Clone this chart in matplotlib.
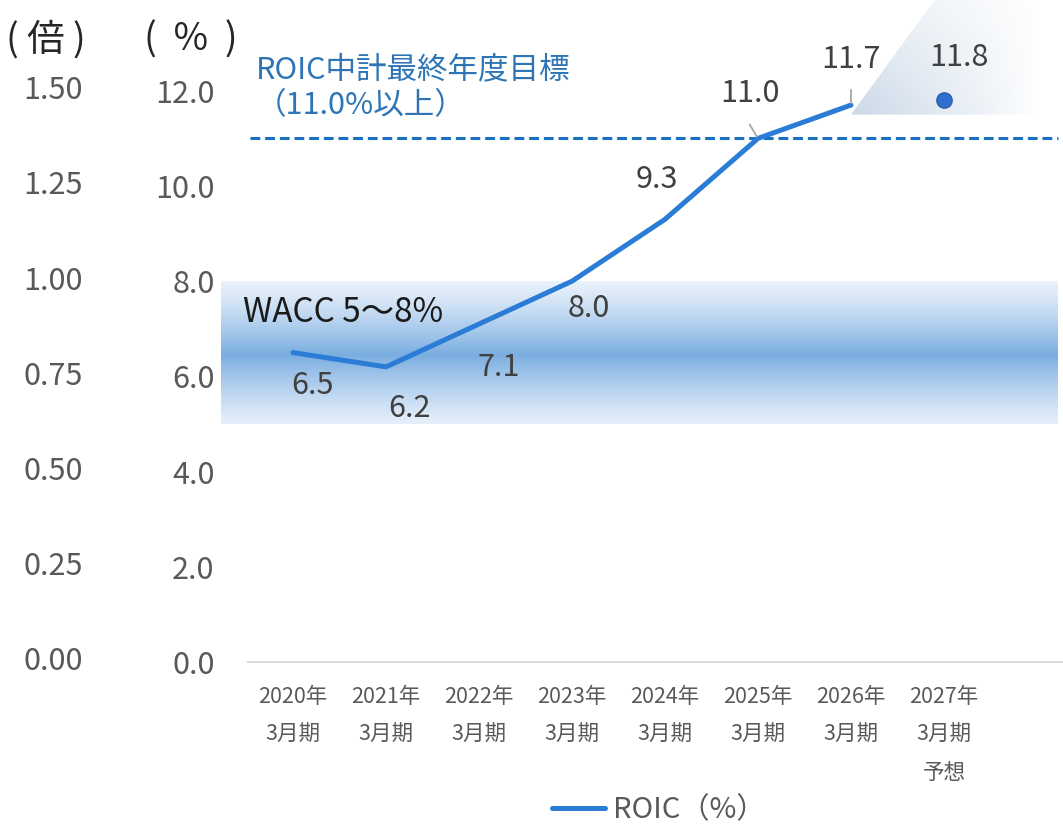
import numpy as np
import matplotlib.pyplot as plt
import matplotlib.transforms as mtransforms
from matplotlib.patches import Polygon
from matplotlib.lines import Line2D

plt.rcParams['font.family'] = ['Noto Sans CJK JP', 'DejaVu Sans']

# データ
periods = ['2020年\n3月期', '2021年\n3月期', '2022年\n3月期', '2023年\n3月期',
           '2024年\n3月期', '2025年\n3月期', '2026年\n3月期', '2027年\n3月期\n予想']
roic = [6.5, 6.2, 7.1, 8.0, 9.3, 11.0, 11.7]
roic_forecast = 11.8
roic_target = 11.0
wacc_range = [5.0, 8.0]
pct_ticks = [0, 2, 4, 6, 8, 10, 12]
times_ticks = [0.00, 0.25, 0.50, 0.75, 1.00, 1.25, 1.50]

W, H = 1063, 827
fig = plt.figure(figsize=(W / 100, H / 100), dpi=100)
ax = fig.add_axes([248 / W, (H - 662) / H, (W - 248) / W, 662 / H])
ax.set_xlim(-0.484, 8.28)
ax.set_ylim(0, 662 / 47.6)

gray = '#595959'
line_c = '#2b7cd6'

# WACC帯 (グラデーション)
ys = np.linspace(wacc_range[0], wacc_range[1], 300)
w = np.clip(1 - np.abs(ys - 6.45) / 1.6, 0, 1) ** 1.3
dark = np.array([0.48, 0.68, 0.88])
light = np.array([0.92, 0.95, 0.985])
band = light + (dark - light) * w[:, None]
ax.imshow(band[:, None, :], origin='lower', aspect='auto', interpolation='bilinear',
          extent=(-0.77, 8.23, wacc_range[0], wacc_range[1]), clip_on=False, zorder=1)

# 予想部分の背景
top = ax.get_ylim()[1]
gx = np.linspace(0, 1, 200)
gy = np.linspace(0, 1, 100)
GX, GY = np.meshgrid(gx, gy)
alpha = np.clip(1 - GX * 1.12, 0, 1) ** 0.9 * (0.68 - 0.4 * GY)
rgba = np.zeros((100, 200, 4))
rgba[..., 0], rgba[..., 1], rgba[..., 2] = 0.70, 0.78, 0.87
rgba[..., 3] = alpha
n = len(roic) - 1
im = ax.imshow(rgba, origin='lower', aspect='auto', interpolation='bilinear',
               extent=(n, 8.28, 11.5, top), zorder=1)
clip = Polygon([(n, 11.5), (n + 0.9, top), (8.28, top), (8.28, 11.5)],
               transform=ax.transData, facecolor='none', edgecolor='none')
ax.add_patch(clip)
im.set_clip_path(clip)
ax.set_xlim(-0.484, 8.28)
ax.set_ylim(0, top)

# 目標ライン
ax.plot([-0.46, 8.23], [roic_target, roic_target], color='#1a70c0', lw=2.2,
        dashes=(3.2, 1.6), zorder=2)

# ROIC
x = np.arange(len(roic))
ax.plot(x, roic, color=line_c, lw=3.6, solid_capstyle='round', zorder=3)
ax.plot([len(roic)], [roic_forecast], 'o', ms=11, color='#2f6fd0',
        mec='#2e5ca8', mew=1, zorder=3)

# データラベル
vals = roic + [roic_forecast]
offsets = [(14, -24), (17, -30), (14, -31), (12, -20), (-6, 29), (-6, 32), (0, 33), (11, 31)]
for i, (v, off) in enumerate(zip(vals, offsets)):
    ax.annotate(f'{v:.1f}', xy=(i, v), xytext=off, textcoords='offset points',
                ha='center', va='center', fontsize=22, color='#404040', zorder=4)

# 引き出し線
for i, start in [(5, (-6, 10)), (6, (0, 11))]:
    ax.annotate('', xy=(i, roic[i]), xytext=start, textcoords='offset points',
                arrowprops=dict(arrowstyle='-', color='#a6a6a6', lw=1.3,
                                shrinkA=0, shrinkB=1.5), zorder=4)

# 軸
for s in ['left', 'right', 'top']:
    ax.spines[s].set_visible(False)
ax.spines['bottom'].set_color('#d9d9d9')
ax.spines['bottom'].set_linewidth(1.5)
ax.set_yticks(pct_ticks)
ax.set_yticklabels([f'{v:.1f}' for v in pct_ticks])
ax.tick_params(axis='y', length=0, pad=24, labelsize=22, labelcolor=gray)
ax.set_xticks(range(len(periods)))
ax.set_xticklabels(periods, linespacing=1.95)
ax.tick_params(axis='x', length=0, pad=17, labelsize=15.5, labelcolor=gray)

# 倍の目盛
trans = mtransforms.blended_transform_factory(ax.transAxes, ax.transData)
scale = max(pct_ticks) / max(times_ticks)
for b in times_ticks:
    ax.text(-0.2025, b * scale, f'{b:.2f}', transform=trans, ha='right', va='center',
            fontsize=22, color=gray)

fig.text(46 / W, 1 - 40 / H, '( 倍 )', ha='center', va='center', fontsize=27, color='#262626')
fig.text(191 / W, 1 - 40 / H, '(  %  )', ha='center', va='center', fontsize=27, color='#262626')

fig.text(256 / W, 1 - 88 / H, 'ROIC中計最終年度目標\n（11.0%以上）', ha='left', va='center',
         fontsize=22, color='#2e75b6', linespacing=1.2)
fig.text(243 / W, 1 - 312 / H, 'WACC 5～8%', ha='left', va='center', fontsize=24,
         color='#1a1a1a')

h = Line2D([], [], color=line_c, lw=3.6, solid_capstyle='round')
leg = fig.legend(handles=[h], labels=['ROIC（%）'], loc='center',
                 bbox_to_anchor=(659 / W, 1 - 810 / H), frameon=False, fontsize=21,
                 handlelength=1.8, handletextpad=0.3)
for t in leg.get_texts():
    t.set_color(gray)

fig.savefig('out.png', dpi=100)
